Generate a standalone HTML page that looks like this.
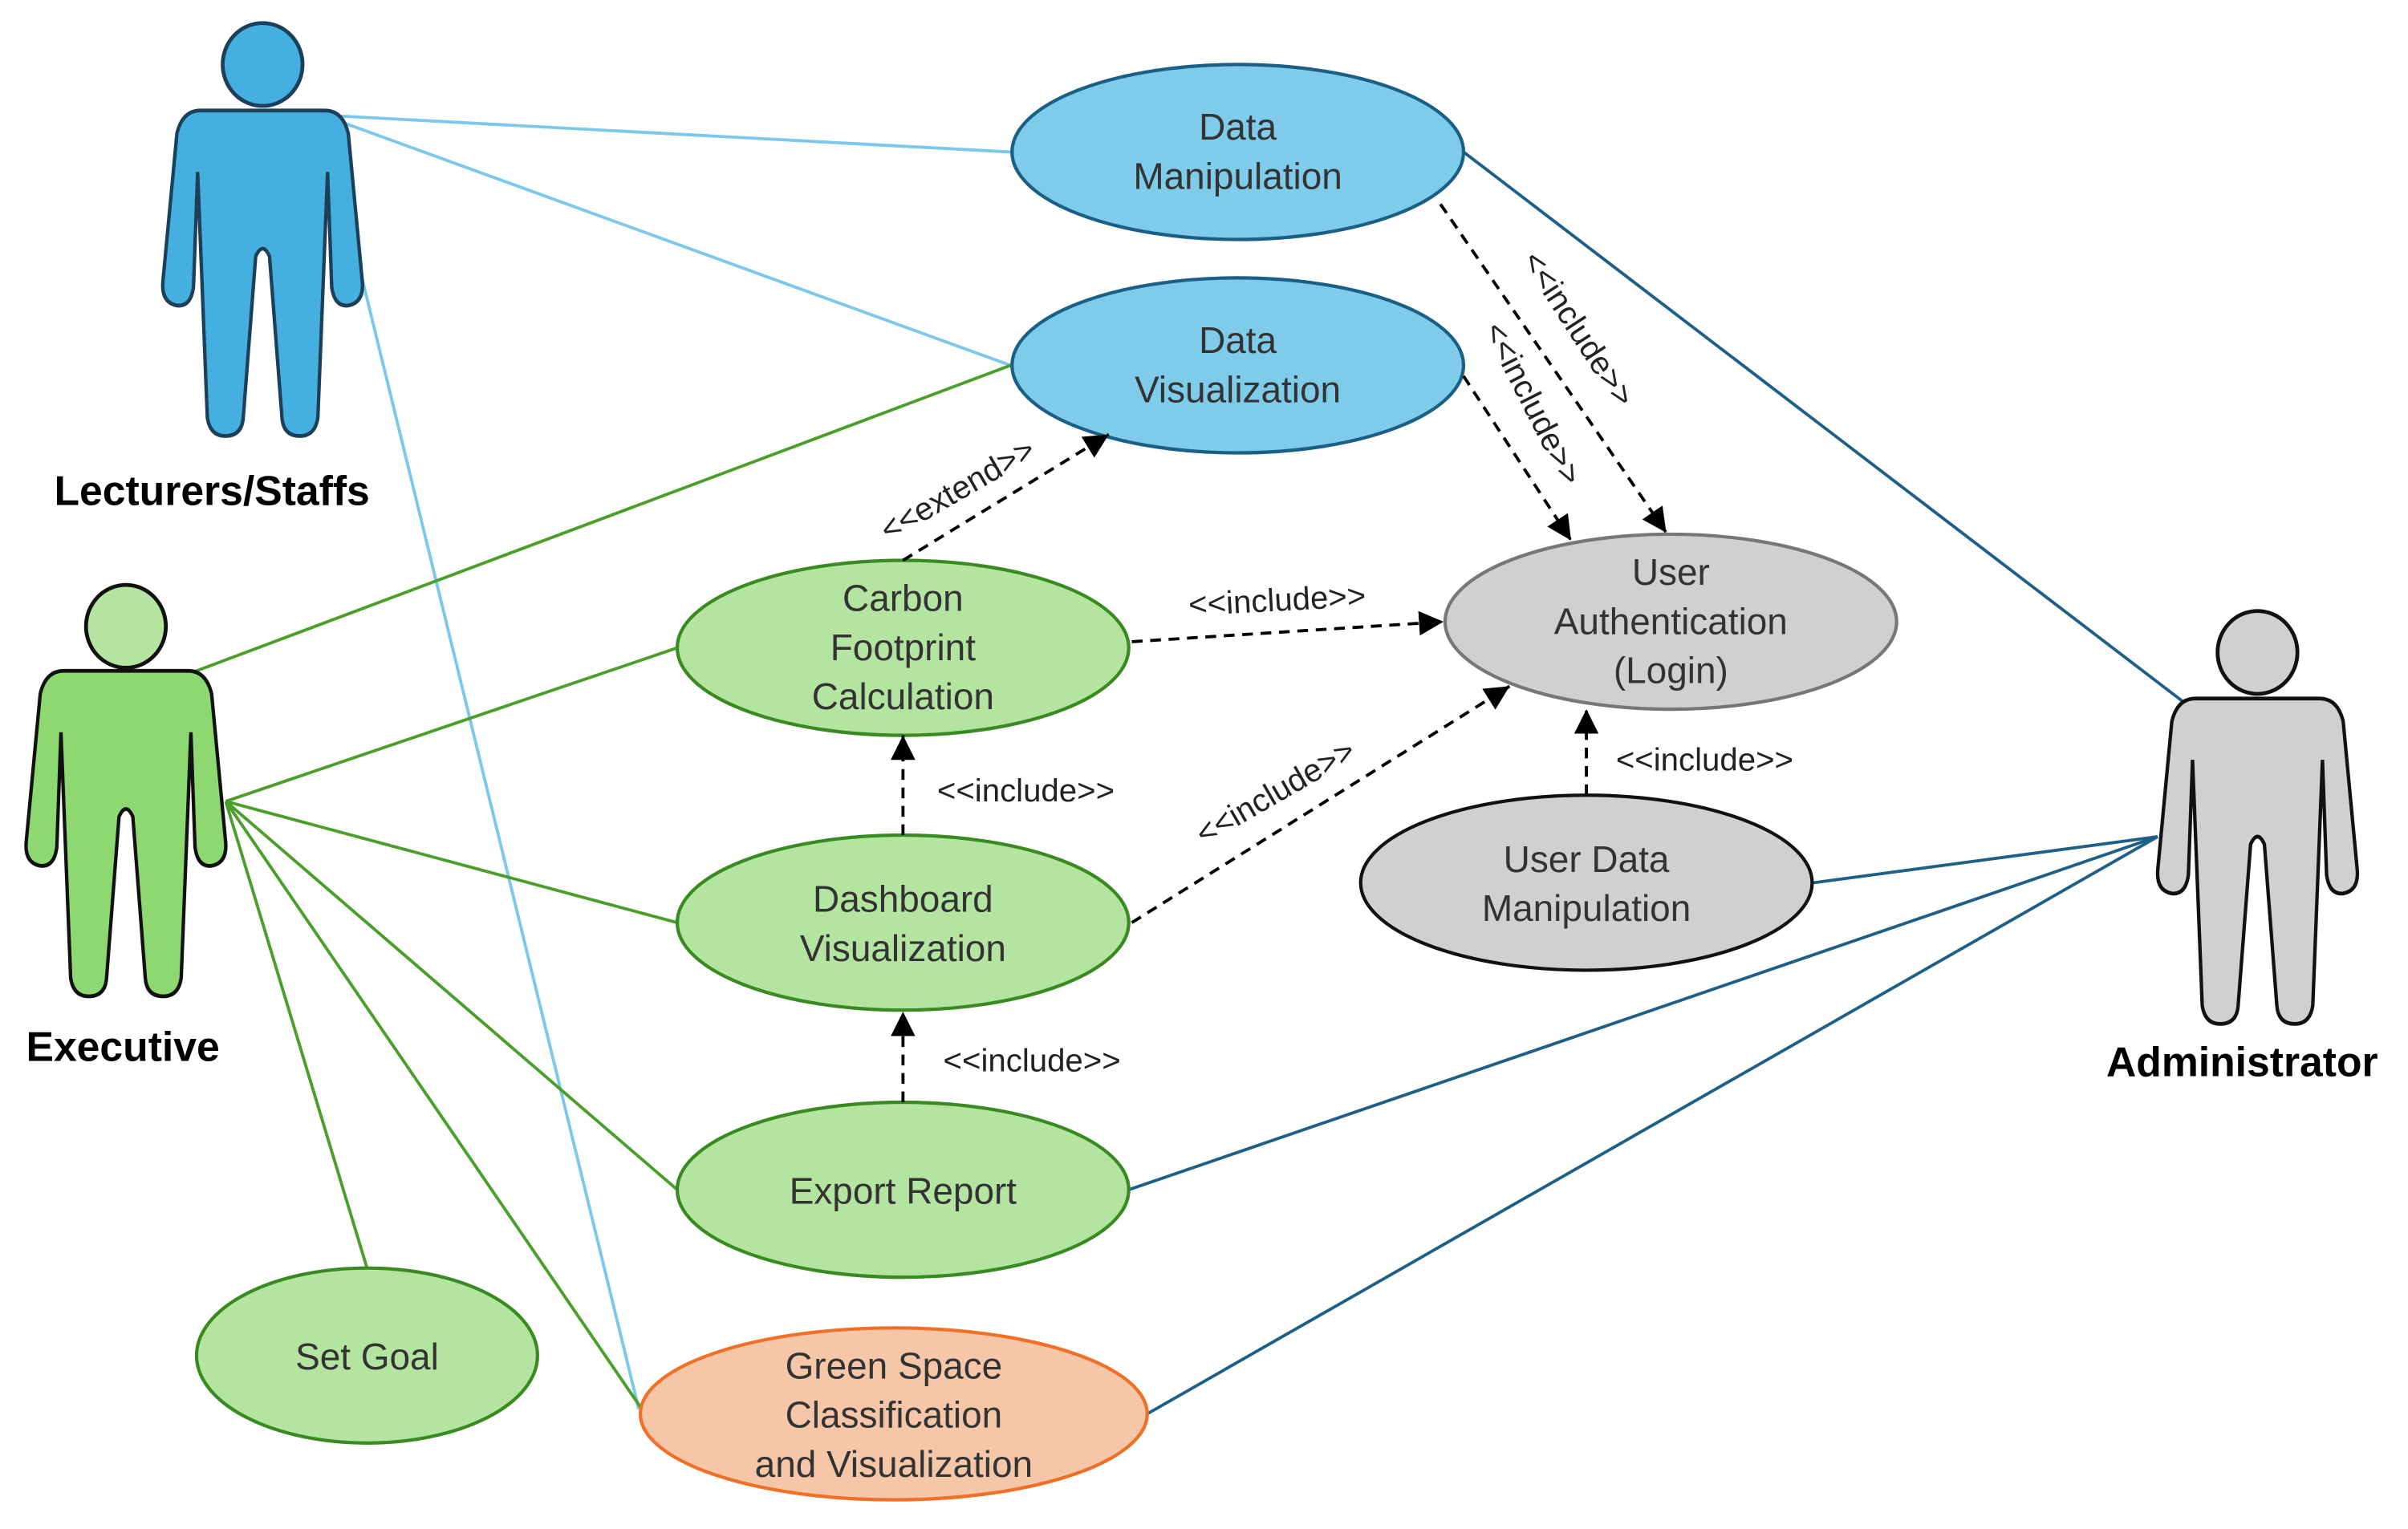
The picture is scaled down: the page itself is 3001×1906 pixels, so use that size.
<!DOCTYPE html>
<html><head><meta charset="utf-8"><style>
html,body{margin:0;padding:0;background:#fff;}
svg{display:block;}
text{font-family:"Liberation Sans",sans-serif;}
.t{font-size:24px;fill:#333;text-anchor:middle;}
.l{font-size:21px;fill:#222;text-anchor:middle;}
.a{font-size:27px;font-weight:bold;fill:#000;text-anchor:middle;}
.d{stroke:#000;stroke-width:2;stroke-dasharray:7,5;fill:none;marker-end:url(#arr);}
</style></head><body>
<svg width="3001" height="1906" viewBox="0 0 1568 996" preserveAspectRatio="none" xmlns="http://www.w3.org/2000/svg">
<defs>
<marker id="arr" viewBox="0 0 10 10" refX="10" refY="5" markerWidth="16" markerHeight="16" markerUnits="userSpaceOnUse" orient="auto"><path d="M0,0 L10,5 L0,10 Z" fill="#000"/></marker>
<path id="body" d="M -45,0 L 45,0 Q 58,0 62,15 L 72,110 Q 74,125 62,127 Q 52,128 50,115 L 47,40 L 40,200 Q 38,212 27,212 Q 15,212 14,200 L 5,95 Q 0,85 -5,95 L -14,200 Q -15,212 -27,212 Q -38,212 -40,200 L -47,40 L -50,115 Q -52,128 -62,127 Q -74,125 -72,110 L -62,15 Q -58,0 -45,0 Z"/>
</defs>

<g fill="none" stroke-width="2">
<g stroke="#7cc8ea">
<line x1="210" y1="75" x2="658" y2="99"/>
<line x1="210" y1="75" x2="658" y2="238"/>
<line x1="233" y1="170" x2="416" y2="918"/>
</g>
<g stroke="#4a9e2a">
<line x1="120" y1="440" x2="658" y2="238"/>
<line x1="147" y1="522" x2="441" y2="422"/>
<line x1="147" y1="522" x2="441" y2="601"/>
<line x1="147" y1="522" x2="441" y2="775"/>
<line x1="147" y1="522" x2="239" y2="826"/>
<line x1="147" y1="522" x2="418" y2="918"/>
</g>
<g stroke="#1d5f86">
<line x1="953" y1="99" x2="1428" y2="462"/>
<line x1="1181" y1="575" x2="1405" y2="545"/>
<line x1="735" y1="775" x2="1405" y2="545"/>
<line x1="747" y1="921" x2="1405" y2="545"/>
</g>
</g>

<g stroke-width="2.5">
<use href="#body" transform="translate(171,72) scale(0.9,1)" fill="#45b0e0" stroke="#1c3f5a"/>
<ellipse cx="171" cy="42" rx="26" ry="27" fill="#45b0e0" stroke="#1c3f5a"/>
<use href="#body" transform="translate(82,437) scale(0.9,1)" fill="#8ed872" stroke="#111"/>
<ellipse cx="82" cy="408" rx="26" ry="27" fill="#b3e5a0" stroke="#111"/>
<use href="#body" transform="translate(1470,455) scale(0.9,1)" fill="#d0d0d0" stroke="#111"/>
<ellipse cx="1470" cy="425" rx="26" ry="27" fill="#d0d0d0" stroke="#111"/>
</g>
<text class="a" x="138" y="329">Lecturers/Staffs</text>
<text class="a" x="80" y="691">Executive</text>
<text class="a" x="1460" y="701">Administrator</text>

<g stroke-width="2.2">
<ellipse cx="806" cy="99" rx="147" ry="57" fill="#7fcbea" stroke="#1a5f86"/>
<ellipse cx="806" cy="238" rx="147" ry="57" fill="#7fcbea" stroke="#1a5f86"/>
<ellipse cx="588" cy="422" rx="147" ry="57" fill="#b3e5a0" stroke="#3a8a22"/>
<ellipse cx="1088" cy="405" rx="147" ry="57" fill="#d0d0d0" stroke="#777"/>
<ellipse cx="588" cy="601" rx="147" ry="57" fill="#b3e5a0" stroke="#3a8a22"/>
<ellipse cx="1033" cy="575" rx="147" ry="57" fill="#d0d0d0" stroke="#111"/>
<ellipse cx="588" cy="775" rx="147" ry="57" fill="#b3e5a0" stroke="#3a8a22"/>
<ellipse cx="239" cy="883" rx="111" ry="57" fill="#b3e5a0" stroke="#3a8a22"/>
<ellipse cx="582" cy="921" rx="165" ry="56" fill="#f6c6a8" stroke="#f07028"/>
</g>
<text class="t" x="806" y="91">Data</text><text class="t" x="806" y="123">Manipulation</text>
<text class="t" x="806" y="230">Data</text><text class="t" x="806" y="262">Visualization</text>
<text class="t" x="588" y="398">Carbon</text><text class="t" x="588" y="430">Footprint</text><text class="t" x="588" y="462">Calculation</text>
<text class="t" x="1088" y="381">User</text><text class="t" x="1088" y="413">Authentication</text><text class="t" x="1088" y="445">(Login)</text>
<text class="t" x="588" y="594">Dashboard</text><text class="t" x="588" y="626">Visualization</text>
<text class="t" x="1033" y="568">User Data</text><text class="t" x="1033" y="600">Manipulation</text>
<text class="t" x="588" y="784">Export Report</text>
<text class="t" x="239" y="892">Set Goal</text>
<text class="t" x="582" y="898">Green Space</text><text class="t" x="582" y="930">Classification</text><text class="t" x="582" y="962">and Visualization</text>

<path class="d" d="M938,133 L1085,347"/>
<path class="d" d="M953,245 L1023,352"/>
<path class="d" d="M737,418 L940,405"/>
<path class="d" d="M588,365 L722,283"/>
<path class="d" d="M588,544 L588,479"/>
<path class="d" d="M737,601 L983,447"/>
<path class="d" d="M1033,518 L1033,462"/>
<path class="d" d="M588,718 L588,659"/>

<text class="l" transform="translate(1022,218) rotate(57)">&lt;&lt;include&gt;&gt;</text>
<text class="l" transform="translate(992,266) rotate(63)">&lt;&lt;include&gt;&gt;</text>
<text class="l" transform="translate(832,398) rotate(-3)">&lt;&lt;include&gt;&gt;</text>
<text class="l" transform="translate(627,325) rotate(-30)">&lt;&lt;extend&gt;&gt;</text>
<text class="l" x="668" y="522">&lt;&lt;include&gt;&gt;</text>
<text class="l" transform="translate(834,522) rotate(-30)">&lt;&lt;include&gt;&gt;</text>
<text class="l" x="1110" y="502">&lt;&lt;include&gt;&gt;</text>
<text class="l" x="672" y="698">&lt;&lt;include&gt;&gt;</text>
</svg>
</body></html>
